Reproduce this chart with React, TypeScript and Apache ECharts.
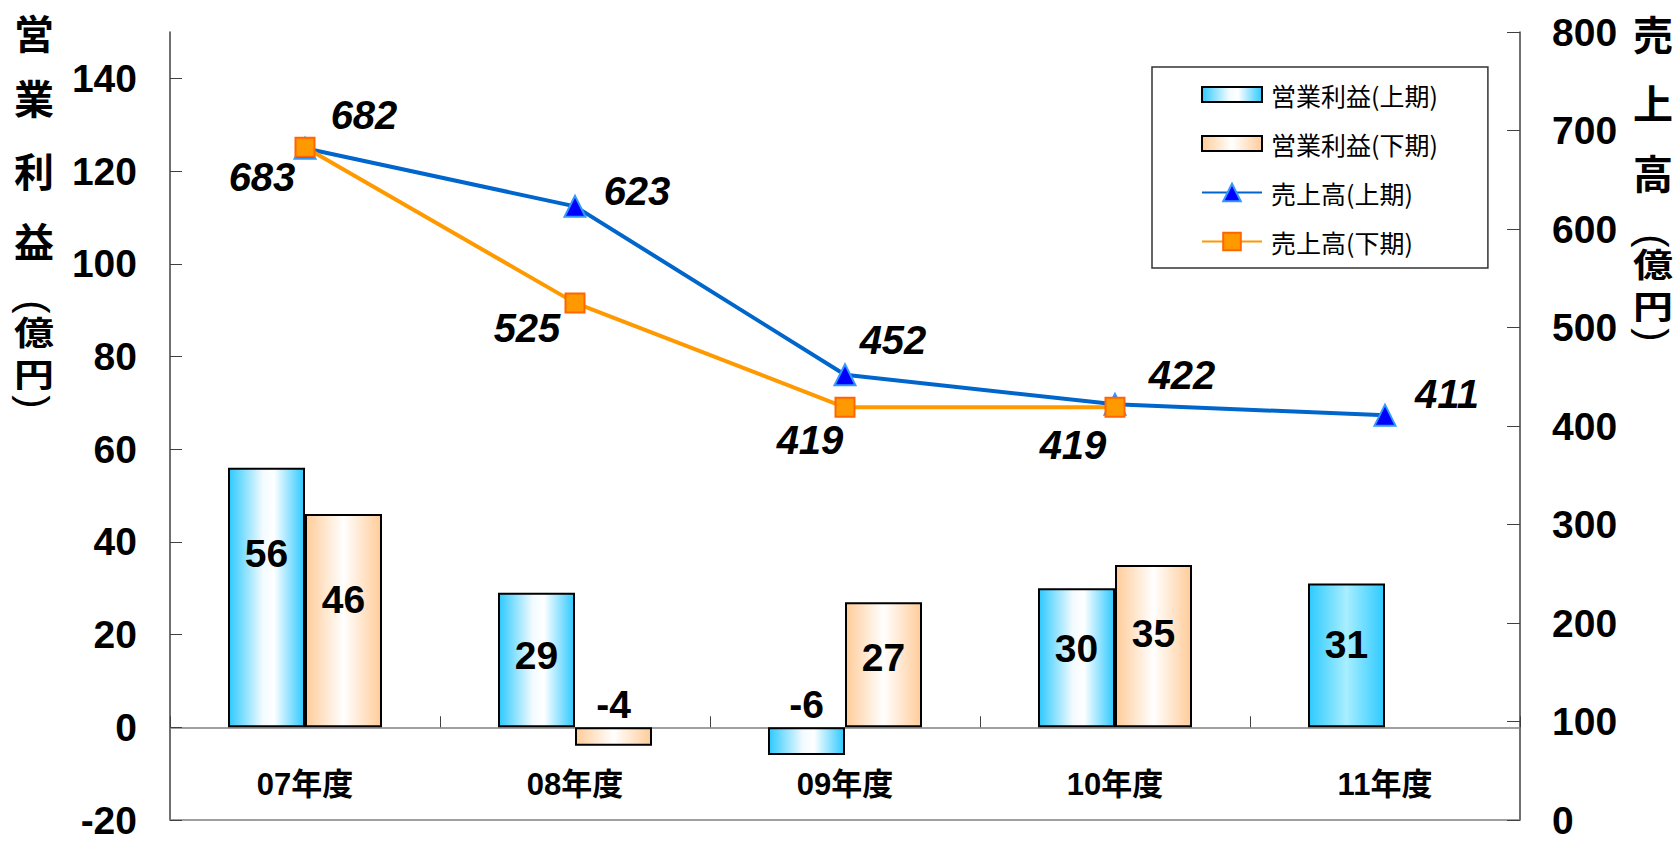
import React, { useEffect, useRef } from 'react';
import * as echarts from 'echarts';

// ---- data ----
const categories = ['07年度', '08年度', '09年度', '10年度', '11年度'];
const profitFirstHalf: (number | null)[] = [56, 29, -6, 30, 31];
const profitSecondHalf: (number | null)[] = [46, -4, 27, 35, null];
const salesFirstHalf: (number | null)[] = [682, 623, 452, 422, 411];
const salesSecondHalf: (number | null)[] = [683, 525, 419, 419, null];
const seriesNames = ['営業利益(上期)', '営業利益(下期)', '売上高(上期)', '売上高(下期)'];
const leftAxisMin = -20;
const leftAxisMax = 150;
const leftAxisStep = 20;
const rightAxisMin = 0;
const rightAxisMax = 800;
const rightAxisStep = 100;
const leftTitleChars = ['営', '業', '利', '益', '(', '億', '円', ')'];
const rightTitleChars = ['売', '上', '高', '(', '億', '円', ')'];

// ---- styling (label placement) ----
const blueLabelOffsets = [[59, -33], [62, -15], [48, -35], [67, -29], [62, -21]];
const orangeLabelOffsets = [[-43, 30], [-48, 25], [-35, 33], [-42, 38]];
const bar1LabelDy = [-44, -5, 0, -9, -11];
const bar2LabelDy = [-21, 0, -7, -13, 0];
const leftTitleY = [32, 97, 170, 240, 307, 331, 373, 402];
const rightTitleY = [33, 102, 172, 241, 263, 305, 335];

const NUM_FONT = "'Liberation Sans', Arial, sans-serif";
const JP_FONT = "'Noto Sans CJK JP', sans-serif";
const MIX_FONT = "'Liberation Sans', 'Noto Sans CJK JP', sans-serif";

function blueGrad() {
  return new echarts.graphic.LinearGradient(0, 0, 1, 0, [
    { offset: 0, color: '#2EC9FF' },
    { offset: 0.45, color: '#F2FBFF' },
    { offset: 0.6, color: '#FFFFFF' },
    { offset: 1, color: '#2EC9FF' },
  ]);
}
function blueSolidGrad() {
  return new echarts.graphic.LinearGradient(0, 0, 1, 0, [
    { offset: 0, color: '#2ECAFF' },
    { offset: 0.5, color: '#A8EEFF' },
    { offset: 1, color: '#2ECAFF' },
  ]);
}
function orangeGrad() {
  return new echarts.graphic.LinearGradient(0, 0, 1, 0, [
    { offset: 0, color: '#FFCC99' },
    { offset: 0.5, color: '#FFFFFF' },
    { offset: 1, color: '#FFCC99' },
  ]);
}

const barLabelBase = {
  show: true,
  fontSize: 39,
  fontWeight: 'bold' as const,
  color: '#000',
  fontFamily: NUM_FONT,
};

function barItems(values: (number | null)[], dys: number[], lastSolid: boolean) {
  return values.map((v, i) => {
    if (v === null) return null;
    const item: any = { value: v };
    if (v < 0) {
      item.label = { ...barLabelBase, position: 'top', distance: 3 };
    } else {
      item.label = { ...barLabelBase, position: 'inside', offset: [0, dys[i]] };
    }
    if (lastSolid && i === values.length - 1) {
      item.itemStyle = { color: blueSolidGrad() };
    }
    return item;
  });
}

function lineItems(values: (number | null)[], offsets: number[][]) {
  return values.map((v, i) => {
    if (v === null) return null;
    return {
      value: v,
      label: {
        show: true,
        position: 'inside',
        offset: offsets[i],
        fontSize: 40,
        fontWeight: 'bold',
        fontStyle: 'italic',
        color: '#000',
        fontFamily: NUM_FONT,
      },
    };
  });
}

function titleGraphics(chars: string[], ys: number[], x: number) {
  return chars.map((ch, i) => {
    const squash = ch === '億' || ch === '円';
    const paren = ch === '(' || ch === ')';
    return {
      type: 'text',
      x,
      y: ys[i],
      scaleY: squash ? 0.82 : 1,
      rotation: paren ? -Math.PI / 2 : 0,
      style: {
        text: ch,
        fontSize: 40,
        fontWeight: paren ? 'normal' : 'bold',
        fontFamily: paren ? NUM_FONT : JP_FONT,
        fill: '#000',
        align: 'center',
        verticalAlign: 'middle',
      },
    };
  });
}

function buildOption(): any {
  return {
    animation: false,
    backgroundColor: '#fff',
    grid: { left: 170, right: 159, top: 32, bottom: 22, containLabel: false, outerBoundsMode: 'none' },
    legend: {
      orient: 'vertical',
      left: 1152,
      top: 67,
      padding: [15, 50, 14, 49],
      itemGap: 24,
      itemWidth: 60,
      itemHeight: 22,
      backgroundColor: '#fff',
      borderColor: '#333',
      borderWidth: 1.5,
      borderRadius: 0,
      textStyle: { fontSize: 25, color: '#000', fontFamily: JP_FONT, lineHeight: 25, padding: [0, 0, 0, 4] },
      data: [
        { name: seriesNames[0], icon: 'path://M0,0H60V15H0Z' },
        { name: seriesNames[1], icon: 'path://M0,0H60V15H0Z' },
        { name: seriesNames[2] },
        { name: seriesNames[3] },
      ],
    },
    xAxis: [
      {
        type: 'category',
        data: categories,
        boundaryGap: true,
        axisLine: { show: true, onZero: true, onZeroAxisIndex: 0, lineStyle: { color: '#808080', width: 1.5 } },
        axisTick: { show: true, inside: true, length: 11, lineStyle: { color: '#404040', width: 1 } },
        axisLabel: { show: false },
        splitLine: { show: false },
      },
      {
        type: 'category',
        data: categories,
        position: 'bottom',
        axisLine: { show: true, onZero: false, lineStyle: { color: '#808080', width: 1.5 } },
        axisTick: { show: false },
        axisLabel: { show: true, margin: -51, fontSize: 31, fontWeight: 'bold', color: '#000', fontFamily: MIX_FONT },
        splitLine: { show: false },
      },
    ],
    yAxis: [
      {
        type: 'value',
        position: 'left',
        min: leftAxisMin,
        max: leftAxisMax,
        interval: leftAxisStep,
        axisLine: { show: true, lineStyle: { color: '#404040', width: 1.5 } },
        axisTick: { show: true, inside: true, length: 12, lineStyle: { color: '#404040', width: 1 } },
        axisLabel: {
          showMaxLabel: false,
          margin: 33,
          fontSize: 39,
          lineHeight: 30,
          fontWeight: 'bold',
          color: '#000',
          fontFamily: NUM_FONT,
        },
        splitLine: { show: false },
      },
      {
        type: 'value',
        position: 'right',
        min: rightAxisMin,
        max: rightAxisMax,
        interval: rightAxisStep,
        axisLine: { show: true, lineStyle: { color: '#404040', width: 1.5 } },
        axisTick: { show: true, inside: true, length: 13, lineStyle: { color: '#404040', width: 1 } },
        axisLabel: {
          margin: 32,
          fontSize: 39,
          lineHeight: 30,
          fontWeight: 'bold',
          color: '#000',
          fontFamily: NUM_FONT,
        },
        splitLine: { show: false },
      },
    ],
    series: [
      {
        name: seriesNames[0],
        type: 'bar',
        xAxisIndex: 0,
        yAxisIndex: 0,
        barWidth: 77,
        barGap: '0%',
        itemStyle: { color: blueGrad(), borderColor: '#000', borderWidth: 2 },
        data: barItems(profitFirstHalf, bar1LabelDy, true),
      },
      {
        name: seriesNames[1],
        type: 'bar',
        xAxisIndex: 0,
        yAxisIndex: 0,
        barWidth: 77,
        barGap: '0%',
        itemStyle: { color: orangeGrad(), borderColor: '#000', borderWidth: 2 },
        data: barItems(profitSecondHalf, bar2LabelDy, false),
      },
      {
        name: seriesNames[2],
        type: 'line',
        xAxisIndex: 0,
        yAxisIndex: 1,
        symbol: 'triangle',
        symbolSize: 21,
        lineStyle: { color: '#0066CC', width: 4 },
        itemStyle: { color: '#0000FF', borderColor: '#3399FF', borderWidth: 2 },
        data: lineItems(salesFirstHalf, blueLabelOffsets),
      },
      {
        name: seriesNames[3],
        type: 'line',
        xAxisIndex: 0,
        yAxisIndex: 1,
        symbol: 'rect',
        symbolSize: 19,
        lineStyle: { color: '#FF9900', width: 4 },
        itemStyle: { color: '#FF9900', borderColor: '#FF6600', borderWidth: 2 },
        data: lineItems(salesSecondHalf, orangeLabelOffsets),
      },
    ],
    graphic: [
      ...titleGraphics(leftTitleChars, leftTitleY, 34),
      ...titleGraphics(rightTitleChars, rightTitleY, 1653),
    ],
  };
}

export default function App() {
  const ref = useRef<HTMLDivElement>(null);
  useEffect(() => {
    document.body.style.margin = '0';
    const chart = echarts.init(ref.current as HTMLDivElement, null, { renderer: 'svg' });
    chart.setOption(buildOption());
    return () => {
      chart.dispose();
    };
  }, []);
  return <div ref={ref} style={{ width: 1679, height: 842 }} />;
}
